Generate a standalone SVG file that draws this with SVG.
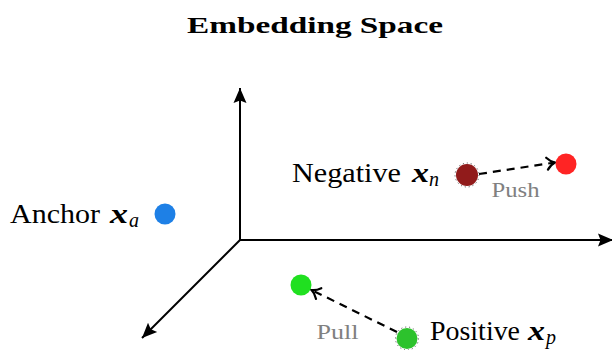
<svg xmlns="http://www.w3.org/2000/svg" width="612" height="350" viewBox="0 0 612 350">
  <style>
    .lbl { font-family: "Liberation Serif", "Times New Roman", serif; font-size: 28px; fill: #000; }
    .mx { font-style: italic; font-weight: bold; }
    .sub { font-style: italic; font-size: 20px; }
    .note { font-family: "Liberation Serif", "Times New Roman", serif; font-size: 20px; fill: #808080; }
    .axis { stroke: #000; stroke-width: 2; fill: none; }
    .flow { stroke: #000; stroke-width: 2.2; fill: none; stroke-dasharray: 8 6; }
    .ring { fill: none; stroke: #444; stroke-width: 1; stroke-dasharray: 1 3; }
  </style>
  <defs>
    <marker id="axisHead" markerUnits="userSpaceOnUse" markerWidth="16" markerHeight="16" viewBox="0 0 16 16" refX="15" refY="8" orient="auto">
      <path d="M0,1.5 L15,8 L0,14.5 L2.5,8 z" fill="#000"/>
    </marker>
    <marker id="openHead" markerUnits="userSpaceOnUse" markerWidth="14" markerHeight="16" viewBox="0 0 14 16" refX="12" refY="8" orient="auto">
      <path d="M4,2 Q7.5,6.5 12,8 Q7.5,9.5 4,14" fill="none" stroke="#000" stroke-width="2.2" stroke-linecap="round"/>
    </marker>
  </defs>

  <rect width="612" height="350" fill="#fff"/>

  <text x="315" y="33" text-anchor="middle" font-family="'Liberation Serif', 'Times New Roman', serif" font-size="24" font-weight="bold" textLength="256" lengthAdjust="spacingAndGlyphs">Embedding Space</text>

  <!-- coordinate axes -->
  <g id="axes">
    <line class="axis" x1="240" y1="240" x2="240" y2="88" marker-end="url(#axisHead)"/>
    <line class="axis" x1="240" y1="240" x2="613" y2="240" marker-end="url(#axisHead)"/>
    <line class="axis" x1="240" y1="240" x2="142" y2="338" marker-end="url(#axisHead)"/>
  </g>

  <!-- push / pull connectors -->
  <g id="connectors">
    <line class="flow" x1="479" y1="174" x2="555" y2="162.5" marker-end="url(#openHead)"/>
    <line class="flow" x1="397" y1="332" x2="311.5" y2="290" marker-end="url(#openHead)"/>
    <text class="note" x="491.5" y="197" textLength="48" lengthAdjust="spacingAndGlyphs">Push</text>
    <text class="note" x="316.5" y="339" textLength="42" lengthAdjust="spacingAndGlyphs">Pull</text>
  </g>

  <g id="anchor">
    <circle cx="165" cy="214" r="10.5" fill="#1e80e6"/>
    <text class="lbl" x="10" y="223"><tspan textLength="90" lengthAdjust="spacingAndGlyphs">Anchor</tspan><tspan class="mx" x="110" textLength="18" lengthAdjust="spacingAndGlyphs">x</tspan><tspan class="sub" x="129" dy="4">a</tspan></text>
  </g>

  <g id="negative">
    <circle cx="467" cy="175" r="11" fill="#911b1b"/>
    <circle class="ring" cx="467" cy="175" r="12"/>
    <text class="lbl" x="292" y="182"><tspan textLength="109" lengthAdjust="spacingAndGlyphs">Negative</tspan><tspan class="mx" x="412" textLength="17" lengthAdjust="spacingAndGlyphs">x</tspan><tspan class="sub" x="429" dy="4">n</tspan></text>
  </g>

  <g id="negative-moved">
    <circle cx="566" cy="164" r="10.5" fill="#ff2424"/>
  </g>

  <g id="positive-moved">
    <circle cx="301" cy="285" r="10.5" fill="#20e020"/>
  </g>

  <g id="positive">
    <circle cx="407" cy="338.5" r="10.5" fill="#2dc22d"/>
    <circle class="ring" cx="407" cy="338.5" r="11.5"/>
    <text class="lbl" x="430" y="340"><tspan textLength="90" lengthAdjust="spacingAndGlyphs">Positive</tspan><tspan class="mx" x="528" textLength="17" lengthAdjust="spacingAndGlyphs">x</tspan><tspan class="sub" x="546" dy="4">p</tspan></text>
  </g>
</svg>
